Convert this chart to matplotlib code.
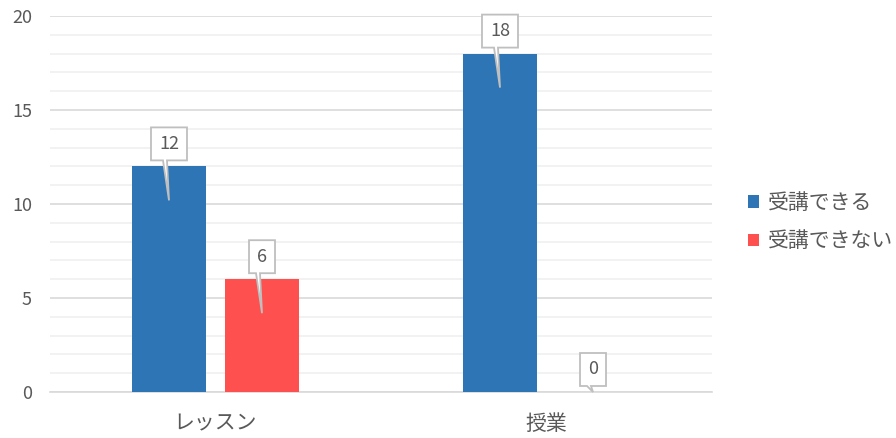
import matplotlib
matplotlib.use("Agg")
import matplotlib.pyplot as plt
import matplotlib.transforms as mtransforms
from matplotlib.patches import Polygon, Patch
import numpy as np

plt.rcParams['font.family'] = ['Noto Sans CJK JP', 'DejaVu Sans']

categories = ["レッスン", "授業"]
series_names = ["受講できる", "受講できない"]
can_attend = [12, 18]
cannot_attend = [6, 0]
colors = ["#2E75B6", "#FF5050"]
yticks = [0, 5, 10, 15, 20]

TXT = "#595959"

fig = plt.figure(figsize=(8.96, 4.38), dpi=100)
ax = fig.add_axes([50/896, 1-392/438, 662/896, 376/438])

x = np.arange(len(categories))
w = 0.2236
off = 0.1405
series = [can_attend, cannot_attend]
for i, (vals, c) in enumerate(zip(series, colors)):
    ax.bar(x + (i*2-1)*off, vals, width=w, color=c, zorder=3, label=series_names[i])

ax.set_xlim(-0.5, 1.5)
ax.set_ylim(0, 20)
ax.set_yticks(yticks)
ax.set_yticks(np.arange(0, 21, 1), minor=True)
ax.set_xticks(x)
ax.set_xticklabels(categories)
ax.grid(axis='y', which='major', color='#D9D9D9', lw=1.2, zorder=0)
ax.grid(axis='y', which='minor', color='#F0F0F0', lw=1.2, zorder=0)
for s in ['top', 'right', 'left']:
    ax.spines[s].set_visible(False)
ax.spines['bottom'].set_color('#D9D9D9')
ax.spines['bottom'].set_linewidth(1.2)
ax.tick_params(axis='both', which='both', length=0, colors=TXT)
ax.tick_params(axis='y', pad=13, labelsize=13)
ax.tick_params(axis='x', pad=15, labelsize=15)

# callouts
fig.canvas.draw()
ident = mtransforms.IdentityTransform()
y0_disp = ax.transData.transform((0, 0))[1]
for i, vals in enumerate(series):
    for j, v in enumerate(vals):
        xc = x[j] + (i*2-1)*off
        axp, ayp = ax.transData.transform((xc, v))
        bw = 16 + 10*len(str(v))
        B = ayp + 6
        T = B + 33
        L = axp - bw/2
        R = axp + bw/2
        tipy = max(ayp - 34, y0_disp)
        verts = [(L, B), (axp-6, B), (axp, tipy), (axp-2, B), (R, B), (R, T), (L, T)]
        poly = Polygon(verts, closed=True, facecolor='white', edgecolor='#BFBFBF',
                       lw=1.3, transform=ident, zorder=5, clip_on=False)
        ax.add_artist(poly)
        ax.annotate(str(v), xy=(xc, v), xytext=(0, 6+16.5), textcoords='offset pixels',
                    ha='center', va='center', fontsize=13, color=TXT, zorder=6,
                    annotation_clip=False)

handles = [Patch(facecolor=c) for c in colors]
fig.legend(handles, series_names, loc='center left', bbox_to_anchor=(729/896, 1-222/438),
           frameon=False, handlelength=0.55, handleheight=0.55, handletextpad=0.4,
           labelspacing=0.8, fontsize=15, labelcolor=TXT)

fig.savefig("out.png", dpi=100)
